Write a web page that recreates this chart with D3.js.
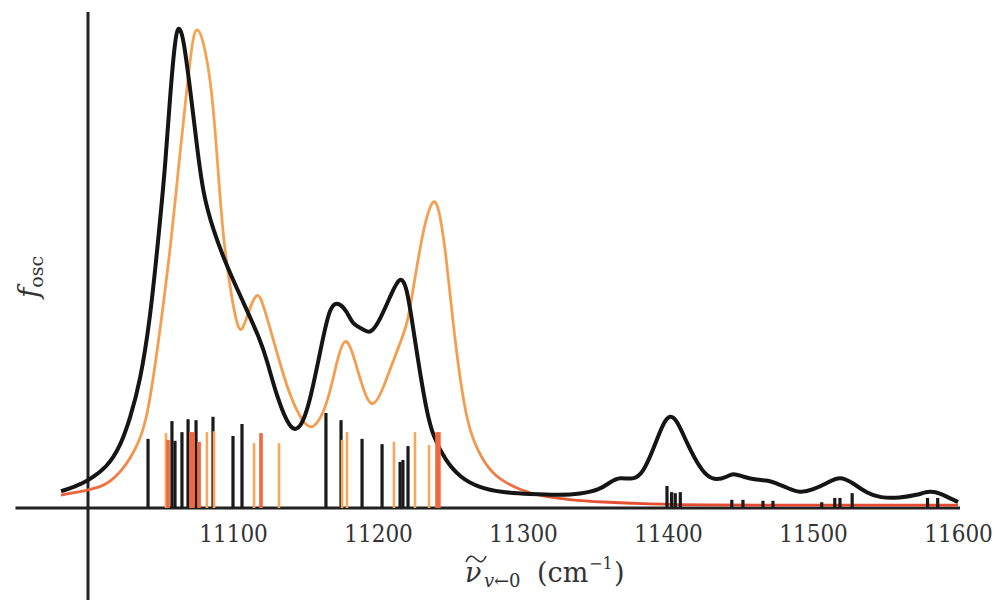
<!DOCTYPE html>
<html>
<head>
<meta charset="utf-8">
<script src="https://cdn.jsdelivr.net/npm/d3@7"></script>
<style>
  html, body { margin: 0; padding: 0; background: #ffffff; }
  svg { display: block; }
  .serif { font-family: "DejaVu Serif", "Liberation Serif", "Times New Roman", serif; }
  .serifc { font-family: "DejaVu Serif Condensed", "DejaVu Serif", serif; font-stretch: condensed; }
</style>
</head>
<body>
<svg id="chart" width="996" height="600"></svg>
<script>
// ---------------- data ----------------
const xTickValues = [11100, 11200, 11300, 11400, 11500, 11600];

// black spectrum (wavenumber, f_osc in arbitrary units)
const blackWave = [10981.4, 10991.0, 11000.7, 11013.1, 11022.1, 11029.0, 11035.9, 11042.8, 11048.3, 11053.1,
  11056.6, 11060.0, 11062.1, 11064.8, 11066.9, 11070.3, 11075.2, 11079.3, 11086.2, 11095.9,
  11106.9, 11118.6, 11123.4, 11130.3, 11139.3, 11146.2, 11153.1, 11162.1, 11166.9, 11172.4,
  11178.6, 11182.8, 11189.0, 11194.5, 11201.4, 11208.3, 11215.2, 11220.0, 11224.1, 11229.0,
  11233.8, 11237.9, 11246.2, 11256.6, 11270.3, 11284.1, 11304.8, 11325.5, 11339.3, 11353.1,
  11360.0, 11366.9, 11375.9, 11382.8, 11389.7, 11396.6, 11401.4, 11406.2, 11413.1, 11420.0,
  11426.9, 11433.8, 11440.7, 11444.8, 11451.7, 11461.4, 11468.3, 11472.4, 11482.1, 11491.0,
  11500.0, 11509.7, 11518.6, 11527.6, 11537.2, 11546.2, 11560.0, 11571.7, 11580.7, 11587.6,
  11596.6, 11600.0];
const blackF = [0.035, 0.044, 0.058, 0.085, 0.127, 0.186, 0.262, 0.392, 0.555, 0.704,
  0.860, 0.975, 1.005, 0.990, 0.954, 0.877, 0.752, 0.655, 0.580, 0.502,
  0.430, 0.352, 0.308, 0.231, 0.162, 0.162, 0.219, 0.356, 0.420, 0.430,
  0.410, 0.381, 0.375, 0.360, 0.392, 0.440, 0.487, 0.460, 0.377, 0.281,
  0.198, 0.150, 0.100, 0.063, 0.042, 0.033, 0.029, 0.027, 0.029, 0.038,
  0.054, 0.065, 0.058, 0.073, 0.121, 0.177, 0.195, 0.183, 0.135, 0.094,
  0.065, 0.058, 0.065, 0.073, 0.065, 0.058, 0.058, 0.054, 0.042, 0.031,
  0.038, 0.052, 0.067, 0.052, 0.031, 0.021, 0.021, 0.027, 0.036, 0.031,
  0.017, 0.0125];

// orange spectrum
const orangeWave = [10981.4, 11001.4, 11013.1, 11024.1, 11033.8, 11040.7, 11047.6, 11056.6, 11063.4, 11068.3,
  11072.4, 11075.2, 11079.3, 11085.5, 11089.7, 11093.1, 11097.9, 11102.8, 11106.2, 11110.3,
  11116.6, 11120.7, 11130.3, 11139.3, 11148.3, 11155.2, 11164.8, 11171.7, 11177.2, 11182.8,
  11189.7, 11195.9, 11203.4, 11213.1, 11220.0, 11224.1, 11231.0, 11235.9, 11239.3, 11242.8,
  11247.6, 11251.7, 11256.6, 11261.4, 11265.5, 11273.8, 11284.1, 11297.9, 11311.7, 11332.4,
  11353.1, 11387.6, 11422.1, 11491.0, 11600.0];
const orangeF = [0.027, 0.038, 0.048, 0.079, 0.127, 0.183, 0.323, 0.531, 0.740, 0.877,
  0.985, 1.003, 0.980, 0.877, 0.704, 0.565, 0.460, 0.377, 0.365, 0.406,
  0.455, 0.427, 0.323, 0.231, 0.177, 0.160, 0.210, 0.308, 0.362, 0.323,
  0.246, 0.203, 0.246, 0.329, 0.377, 0.454, 0.579, 0.630, 0.645, 0.615,
  0.510, 0.385, 0.267, 0.183, 0.142, 0.090, 0.058, 0.038, 0.025, 0.017,
  0.0125, 0.008, 0.006, 0.006, 0.006];

// black stick transitions
const blackStickWave = [11041.4, 11057.9, 11060.0, 11064.8, 11069.0, 11074.5, 11086.2, 11100.0, 11106.2,
  11164.1, 11174.5, 11189.0, 11202.8, 11215.2, 11217.2, 11220.7,
  11399.3, 11402.5, 11405.0, 11408.5, 11444.0, 11451.7, 11465.5, 11472.4,
  11506.0, 11515.0, 11518.6, 11527.0, 11579.0, 11586.0];
const blackStickF = [0.144, 0.181, 0.140, 0.158, 0.185, 0.183, 0.190, 0.150, 0.175,
  0.198, 0.183, 0.144, 0.133, 0.096, 0.100, 0.129,
  0.046, 0.033, 0.031, 0.033, 0.017, 0.017, 0.015, 0.015,
  0.012, 0.021, 0.021, 0.031, 0.021, 0.021];

// orange stick transitions (tone: "light" or "deep")
const orangeStickWave = [11053.8, 11055.2, 11071.0, 11072.4, 11076.6, 11082.0, 11086.9, 11114.5, 11119.3, 11131.7,
  11175.2, 11178.6, 11211.0, 11225.5, 11235.2, 11240.7, 11242.0];
const orangeStickF = [0.156, 0.142, 0.158, 0.158, 0.138, 0.158, 0.160, 0.135, 0.156, 0.135,
  0.142, 0.158, 0.138, 0.158, 0.131, 0.158, 0.158];
const orangeStickTone = ["light", "deep", "deep", "deep", "deep", "light", "light", "light", "deep", "light",
  "light", "light", "light", "light", "light", "deep", "deep"];

// ---------------- drawing ----------------
const svg = d3.select("#chart");
const x = d3.scaleLinear().domain([11000, 11600]).range([88, 958]);
const y = d3.scaleLinear().domain([0, 1]).range([508, 28]);

const defs = svg.append("defs");
const grad = defs.append("linearGradient")
  .attr("id", "orangeGrad").attr("gradientUnits", "userSpaceOnUse")
  .attr("x1", 0).attr("y1", y(0)).attr("x2", 0).attr("y2", y(1));
grad.append("stop").attr("offset", 0).attr("stop-color", "#e2462e");
grad.append("stop").attr("offset", 0.05).attr("stop-color", "#ee7442");
grad.append("stop").attr("offset", 0.14).attr("stop-color", "#f49c4e");
grad.append("stop").attr("offset", 1).attr("stop-color", "#f5a451");

// axes lines
svg.append("line")
  .attr("x1", x(10950)).attr("x2", x(11600) + 2)
  .attr("y1", y(0)).attr("y2", y(0))
  .attr("stroke", "#222").attr("stroke-width", 3);
svg.append("line")
  .attr("x1", x(11000)).attr("x2", x(11000))
  .attr("y1", 12).attr("y2", 600)
  .attr("stroke", "#222").attr("stroke-width", 3);

// tick labels via axis
const xAxis = d3.axisBottom(x).tickValues(xTickValues).tickSize(0).tickPadding(17)
  .tickFormat(d3.format("d"));
const gx = svg.append("g").attr("transform", `translate(0,${y(0)})`).call(xAxis);
gx.attr("font-family", null).attr("font-size", null);
gx.select(".domain").remove();
gx.selectAll("text")
  .attr("class", "serifc")
  .style("font-size", "24px").attr("fill", "#333");

// curves
const line = d3.line()
  .x(d => x(d[0])).y(d => y(d[1]))
  .curve(d3.curveBasis);

const orangeData = orangeWave.map((w, i) => [w, orangeF[i]]);
const blackData = blackWave.map((w, i) => [w, blackF[i]]);

svg.append("path").datum(orangeData)
  .attr("d", line).attr("fill", "none")
  .attr("stroke", "url(#orangeGrad)").attr("stroke-width", 2.8)
  .attr("stroke-linejoin", "round");
svg.append("path").datum(blackData)
  .attr("d", line).attr("fill", "none")
  .attr("stroke", "#151515").attr("stroke-width", 4)
  .attr("stroke-linejoin", "round");

// sticks
svg.append("g").selectAll("line")
  .data(blackStickWave.map((w, i) => [w, blackStickF[i]]))
  .join("line")
  .attr("x1", d => x(d[0])).attr("x2", d => x(d[0]))
  .attr("y1", y(0)).attr("y2", d => y(d[1]))
  .attr("stroke", "#1a1a1a").attr("stroke-width", 3.2);

svg.append("g").selectAll("line")
  .data(orangeStickWave.map((w, i) => [w, orangeStickF[i], orangeStickTone[i]]))
  .join("line")
  .attr("x1", d => x(d[0])).attr("x2", d => x(d[0]))
  .attr("y1", y(0)).attr("y2", d => y(d[1]))
  .attr("stroke", d => d[2] === "deep" ? "#f0683f" : "#f6a75a")
  .attr("stroke-width", d => d[2] === "deep" ? 3.6 : 2.6);

// x axis title
const tx = svg.append("text")
  .attr("class", "serif")
  .attr("y", 582)
  .style("font-size", "27px").attr("fill", "#333");
tx.append("tspan").attr("x", 465).style("font-style", "italic").text("ν");
tx.append("tspan").attr("x", 484).style("font-style", "italic").style("font-size", "18px").attr("dy", 5).text("v");
tx.append("tspan").attr("x", 494).style("font-size", "18px").text("←0");
tx.append("tspan").attr("x", 537).attr("dy", -5).text("(cm");
tx.append("tspan").attr("x", 589).style("font-size", "16px").attr("dy", -13).text("−1");
tx.append("tspan").attr("x", 614).attr("dy", 13).text(")");
// tilde accent over nu
svg.append("path")
  .attr("d", "M466,562 C469,555 472,555 476,559 C480,563 483,563 486,556")
  .attr("fill", "none").attr("stroke", "#333").attr("stroke-width", 1.6);

// y axis title
const ty = svg.append("text")
  .attr("class", "serif")
  .attr("transform", "translate(38,298) rotate(-90)")
  .style("font-size", "28px").attr("fill", "#333");
ty.append("tspan").style("font-style", "italic").text("f");
ty.append("tspan").style("font-size", "19px").attr("dy", 5).text("osc");
</script>
</body>
</html>
